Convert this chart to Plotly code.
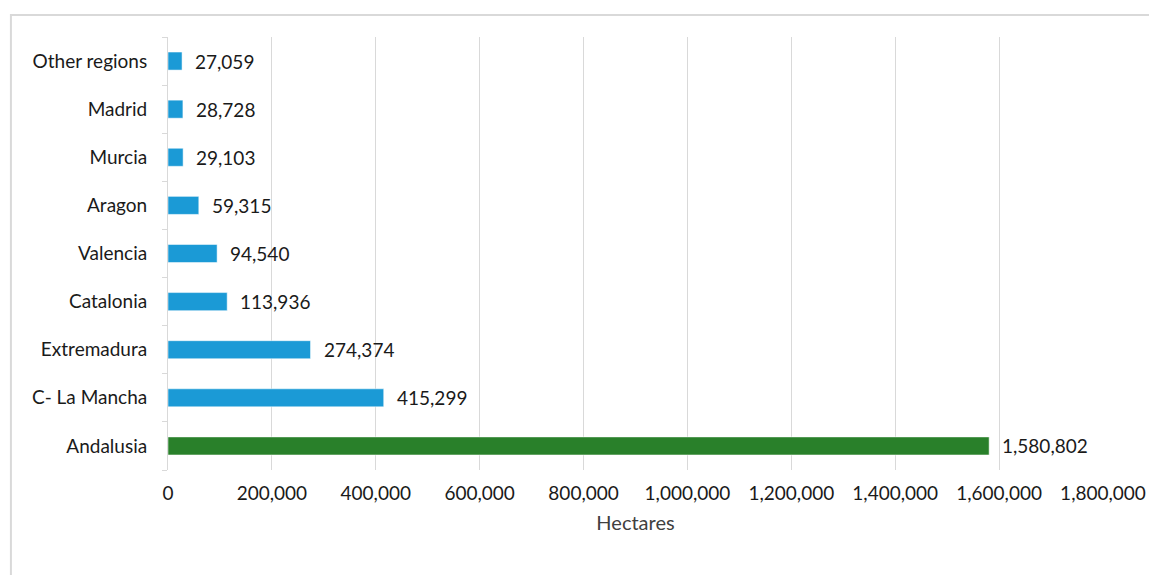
import plotly.graph_objects as go

regions = ["Andalusia", "C- La Mancha", "Extremadura", "Catalonia", "Valencia",
           "Aragon", "Murcia", "Madrid", "Other regions"]
hectares = [1580802, 415299, 274374, 113936, 94540, 59315, 29103, 28728, 27059]
colors = ["#29802A"] + ["#1B9AD6"] * 8
tick_vals = [0, 200000, 400000, 600000, 800000, 1000000, 1200000, 1400000, 1600000, 1800000]

FONT = "Lato"
TXT = "#1a1a1a"
FS = 19

fig = go.Figure()
fig.add_trace(go.Bar(
    x=hectares, y=regions, orientation="h",
    marker=dict(color=colors, line=dict(color="rgba(255,255,255,0.5)", width=1)),
    width=0.375,
    hoverinfo="x+y",
))

for r, v in zip(regions, hectares):
    fig.add_annotation(x=v, y=r, xref="x", yref="y", text=f"{v:,}", showarrow=False,
                       xanchor="left", xshift=11,
                       font=dict(family=FONT, size=FS, color=TXT))

fig.update_layout(
    width=1157, height=575,
    margin=dict(l=160, r=62, t=29, b=113),
    paper_bgcolor="white", plot_bgcolor="white",
    showlegend=False,
    font=dict(family=FONT, size=FS, color=TXT),
    xaxis=dict(
        range=[0, 1800000], tickvals=tick_vals,
        ticktext=[f"{t:,}" for t in tick_vals],
        showgrid=True, gridcolor="#d9d9d9", gridwidth=1,
        zeroline=False, showline=False, ticks="",
        tickfont=dict(family=FONT, size=FS, color=TXT),
        ticklabelstandoff=10,
        title=dict(text="Hectares", font=dict(family=FONT, size=20, color="#404040"), standoff=12),
    ),
    yaxis=dict(
        type="category", categoryorder="array", categoryarray=regions,
        showline=True, linecolor="#d9d9d9", linewidth=1,
        ticks="outside", tickson="boundaries", ticklen=5, tickcolor="#d9d9d9",
        showgrid=False,
        tickfont=dict(family=FONT, size=FS, color=TXT),
        ticklabelstandoff=16,
    ),
    shapes=[dict(type="rect", xref="paper", yref="paper",
                 x0=-0.168, x1=1.2, y0=-0.4, y1=1.051,
                 line=dict(color="#d9d9d9", width=2), fillcolor="rgba(0,0,0,0)", layer="below")],
)

fig.write_html("out.html")
